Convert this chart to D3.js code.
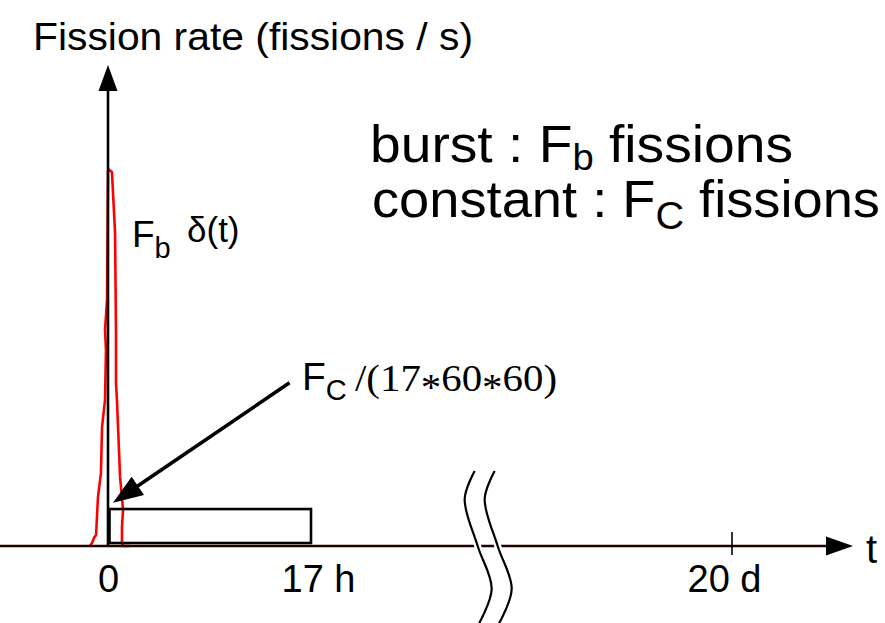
<!DOCTYPE html>
<html>
<head>
<meta charset="utf-8">
<script src="https://cdn.jsdelivr.net/npm/d3@7"></script>
<style>
  body { margin: 0; background: #fff; }
  svg { display: block; }
  text { font-family: "Liberation Sans", Arial, Helvetica, sans-serif; fill: #000; }
  .serif { font-family: "Liberation Serif", "Times New Roman", serif; }
</style>
</head>
<body>
<div id="chart"></div>
<script>
// time in hours (schematic axis with a break), rate in arbitrary units
let tickValues = [0, 17, 480];
let tickLabels = ["0", "17 h", "20 d"];

// burst curve (red)
let burstT    = [-1.51, -1.34, -1.17, -1.00, -0.84, -0.59, -0.50, -0.25, -0.17, -0.25, -0.08, 0, 0.04, 0.33, 0.59, 0.67, 0.67, 0.75, 0.92, 1.01, 1.26, 1.17, 1.17, 1.26, 1.84];
let burstRate = [0, 0.6, 1.7, 2.3, 10.2, 15.2, 24.8, 30.4, 40.8, 45.0, 51.3, 77.9, 78.5, 77.9, 65.4, 44.4, 34.0, 30.4, 20.0, 14.4, 7.5, 4.0, 0.6, 0, 0];

// constant irradiation: 0 .. 17 h
let constStart = 0;
let constEnd = 17;
let constRate = 7.7;

// annotation arrow for Fc/(17*60*60)
let annoFrom = [15.2, 34.0];
let annoTo = [0.42, 9.0];

let breakAt = 208;

let width = 885, height = 623;

let svg = d3.select("#chart").append("svg")
    .attr("width", width)
    .attr("height", height);

let x = d3.scaleLinear().domain([0, 17, 480]).range([108, 311, 732]);
let y = d3.scaleLinear().domain([0, 100]).range([546, 66]);

let drawArrowHead = function(g, tip, from, len, half) {
    let dx = tip[0] - from[0], dy = tip[1] - from[1];
    let d = Math.sqrt(dx * dx + dy * dy);
    let ux = dx / d, uy = dy / d;
    let bx = tip[0] - ux * len, by = tip[1] - uy * len;
    g.append("path")
        .attr("d", "M" + tip[0] + "," + tip[1] +
            "L" + (bx - uy * half) + "," + (by + ux * half) +
            "L" + (bx + uy * half) + "," + (by - ux * half) + "Z")
        .attr("fill", "#000");
};

// red burst curve
let burstLine = d3.line()
    .x(d => x(d[0]))
    .y(d => y(d[1]));
svg.append("path")
    .datum(burstT.map((t, i) => [t, burstRate[i]]))
    .attr("d", burstLine)
    .attr("fill", "none")
    .attr("stroke", "#ff0000")
    .attr("stroke-width", 2.6)
    .attr("stroke-linejoin", "round");

// constant box
svg.append("rect")
    .attr("x", x(constStart) + 1.5)
    .attr("y", y(constRate))
    .attr("width", x(constEnd) - x(constStart) - 1.5)
    .attr("height", y(0) - y(constRate) - 3)
    .attr("fill", "none")
    .attr("stroke", "#000")
    .attr("stroke-width", 2.6);

// horizontal axis
let xAxisG = svg.append("g");
xAxisG.append("line")
    .attr("x1", 0).attr("x2", 832)
    .attr("y1", y(0)).attr("y2", y(0))
    .attr("stroke", "#1e0202")
    .attr("stroke-width", 2.6);
drawArrowHead(xAxisG, [853, y(0)], [0, y(0)], 27, 9.5);

xAxisG.append("line")
    .attr("x1", x(480)).attr("x2", x(480))
    .attr("y1", y(0) - 14).attr("y2", y(0) + 9)
    .attr("stroke", "#000")
    .attr("stroke-width", 1.6);

let labelShift = {"0": 0, "17 h": 7, "20 d": -8};
let axis = d3.axisBottom(x)
    .tickValues(tickValues)
    .tickFormat((d, i) => tickLabels[i])
    .tickSize(0)
    .tickPadding(0);
let axG = svg.append("g")
    .attr("transform", "translate(0," + y(0) + ")")
    .call(axis);
axG.select(".domain").remove();
axG.selectAll("text")
    .attr("font-family", null)
    .attr("font-size", null)
    .style("font-size", "38px")
    .attr("dy", null)
    .attr("y", 46)
    .attr("dx", d => labelShift[tickLabels[tickValues.indexOf(d)]]);

svg.append("text")
    .attr("x", 866).attr("y", 563)
    .style("font-size", "40px")
    .text("t");

// break symbol
let breakX = x(breakAt);
let breakShape = [[-10, -75], [-20, -47], [-7, 0], [7, 43], [-7, 80]];
let breakLine = d3.line().curve(d3.curveCatmullRom.alpha(0.5));
[0, 20].forEach(function(off) {
    let pts = breakShape.map(p => [breakX + p[0] + off, y(0) + p[1]]);
    svg.append("path").attr("d", breakLine(pts))
        .attr("fill", "none").attr("stroke", "#fff").attr("stroke-width", 7);
});
[0, 20].forEach(function(off) {
    let pts = breakShape.map(p => [breakX + p[0] + off, y(0) + p[1]]);
    svg.append("path").attr("d", breakLine(pts))
        .attr("fill", "none").attr("stroke", "#000").attr("stroke-width", 2.2);
});

// vertical axis
let yAxisG = svg.append("g");
yAxisG.append("line")
    .attr("x1", x(0)).attr("x2", x(0))
    .attr("y1", y(0)).attr("y2", y(100) + 20)
    .attr("stroke", "#000")
    .attr("stroke-width", 2.6);
drawArrowHead(yAxisG, [x(0), y(100) - 1], [x(0), y(0)], 26, 9.5);

svg.append("text")
    .attr("x", 33).attr("y", 50)
    .attr("textLength", 440).attr("lengthAdjust", "spacingAndGlyphs")
    .style("font-size", "38px")
    .text("Fission rate (fissions / s)");

// annotation arrow
let aFrom = [x(annoFrom[0]), y(annoFrom[1])];
let aTo = [x(annoTo[0]), y(annoTo[1])];
let annoG = svg.append("g");
let adx = aTo[0] - aFrom[0], ady = aTo[1] - aFrom[1];
let alen = Math.sqrt(adx * adx + ady * ady);
annoG.append("line")
    .attr("x1", aFrom[0]).attr("y1", aFrom[1])
    .attr("x2", aTo[0] - adx / alen * 20).attr("y2", aTo[1] - ady / alen * 20)
    .attr("stroke", "#000")
    .attr("stroke-width", 3.6);
drawArrowHead(annoG, aTo, aFrom, 30, 11);

// Fc label
let fc = svg.append("text").attr("x", 302).attr("y", 390).style("font-size", "39px");
fc.append("tspan").text("F");
fc.append("tspan").attr("dy", 10).style("font-size", "29px").text("C");
let den = svg.append("text").attr("class", "serif")
    .attr("x", 355).attr("y", 391)
    .attr("textLength", 202).attr("lengthAdjust", "spacingAndGlyphs")
    .style("font-size", "38px");
den.append("tspan").text("/(17");
den.append("tspan").attr("dy", 9).text("*");
den.append("tspan").attr("dy", -9).text("60");
den.append("tspan").attr("dy", 9).text("*");
den.append("tspan").attr("dy", -9).text("60)");

// Fb delta label
let fb = svg.append("text").attr("x", 132).attr("y", 247).style("font-size", "37px");
fb.append("tspan").text("F");
fb.append("tspan").attr("dy", 11).style("font-size", "29px").text("b");
svg.append("text")
    .attr("x", 187).attr("y", 242)
    .style("font-size", "35px")
    .text("\u03b4(t)");

// legend text
let l1 = svg.append("text").attr("x", 370).attr("y", 162)
    .attr("textLength", 423).attr("lengthAdjust", "spacingAndGlyphs")
    .style("font-size", "52px");
l1.append("tspan").text("burst : F");
l1.append("tspan").attr("dy", 8).style("font-size", "36px").text("b");
l1.append("tspan").attr("dy", -8).text(" fissions");

let l2 = svg.append("text").attr("x", 372).attr("y", 217)
    .attr("textLength", 508).attr("lengthAdjust", "spacingAndGlyphs")
    .style("font-size", "52px");
l2.append("tspan").text("constant : F");
l2.append("tspan").attr("dy", 12).style("font-size", "38px").text("C");
l2.append("tspan").attr("dy", -12).text(" fissions");
</script>
</body>
</html>
